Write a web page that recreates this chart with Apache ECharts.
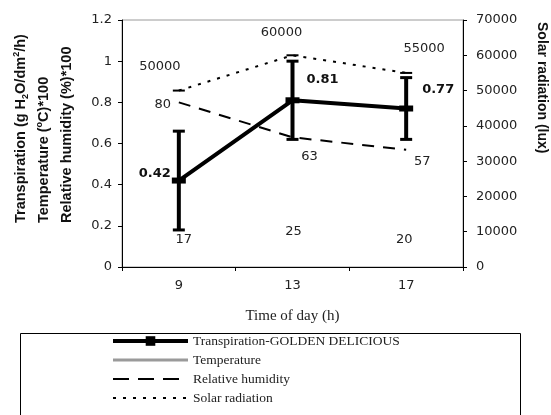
<!DOCTYPE html>
<html>
<head>
<meta charset="utf-8">
<script src="https://cdn.jsdelivr.net/npm/echarts@6/dist/echarts.min.js"></script>
<style>
html,body{margin:0;padding:0;background:#fff;}
#chart{width:551px;height:415px;}
</style>
</head>
<body>
<div id="chart"></div>
<script>
// Time of day (h)
const hours = ['9', '13', '17'];
// Transpiration, g H2O/dm2/h, with error bar ends
const transpiration = [0.42, 0.81, 0.77];
const transpirationLow = [0.18, 0.62, 0.62];
const transpirationHigh = [0.66, 1.00, 0.92];
// Temperature (°C) and relative humidity (%), plotted as value/100 on the left axis
const temperature = [17, 25, 20];
const humidity = [80, 63, 57];
// Solar radiation (lux), right axis
const solar = [50000, 60000, 55000];

// Axis ranges
const leftAxisRange = {min: 0, max: 1.2, interval: 0.2};
const rightAxisRange = {min: 0, max: 70000, interval: 10000};

// Label placement around each point
const transLabelOffset = [[-24, -7], [30, -21], [32, -19]];
const tempLabelOffset = [[5, 8], [1, 16], [-2, 14]];
const humLabelOffset = [[-16, 2], [17, 19], [16, 12]];
const solarLabelOffset = [[-19, -24], [-11, -23], [18, -24]];

const numFont = 'DejaVu Sans';
const serifFont = 'Liberation Serif';
const titleFont = 'Liberation Sans';

function pointData(values, scale, offsets, extraLabel) {
  return values.map((v, i) => ({
    value: v / scale,
    label: Object.assign({offset: offsets[i]}, extraLabel || {})
  }));
}

const chart = echarts.init(document.getElementById('chart'), null, {renderer: 'canvas'});

const titleRich = {
  a: {fontFamily: titleFont, fontWeight: 'bold', fontSize: 14.5, fill: '#111'},
  sub: {fontFamily: titleFont, fontWeight: 'bold', fontSize: 9, fill: '#111', verticalAlign: 'bottom', lineHeight: 18},
  sup: {fontFamily: titleFont, fontWeight: 'bold', fontSize: 9, fill: '#111', verticalAlign: 'top', lineHeight: 18}
};

const option = {
  backgroundColor: '#fff',
  animation: false,
  grid: {
    left: 122, right: 88, top: 20, bottom: 148,
    show: true, borderColor: '#9a9a9a', borderWidth: 1,
    backgroundColor: 'transparent'
  },
  xAxis: {
    type: 'category',
    data: hours,
    boundaryGap: true,
    name: 'Time of day (h)',
    nameLocation: 'middle',
    nameGap: 42,
    nameTextStyle: {fontFamily: serifFont, fontSize: 15, color: '#222'},
    axisLine: {lineStyle: {color: '#000', width: 1}},
    axisTick: {show: true, length: 4, lineStyle: {color: '#000'}},
    axisLabel: {fontFamily: numFont, fontSize: 13, color: '#222', margin: 12},
    splitLine: {show: false}
  },
  yAxis: [
    {
      type: 'value',
      position: 'left',
      min: leftAxisRange.min, max: leftAxisRange.max, interval: leftAxisRange.interval,
      axisLine: {show: true, lineStyle: {color: '#000', width: 1}},
      axisTick: {show: true, length: 4, lineStyle: {color: '#000'}},
      axisLabel: {fontFamily: numFont, fontSize: 13, color: '#222', margin: 10},
      splitLine: {show: false}
    },
    {
      type: 'value',
      position: 'right',
      min: rightAxisRange.min, max: rightAxisRange.max, interval: rightAxisRange.interval,
      axisLine: {show: true, lineStyle: {color: '#000', width: 1}},
      axisTick: {show: true, length: 4, lineStyle: {color: '#000'}},
      axisLabel: {fontFamily: numFont, fontSize: 13, color: '#222', margin: 13,
                  formatter: v => String(v)},
      splitLine: {show: false}
    }
  ],
  legend: {
    orient: 'vertical',
    left: 111,
    top: 334,
    padding: 0,
    itemWidth: 75,
    itemHeight: 12,
    itemGap: 5,
    textStyle: {fontFamily: serifFont, fontSize: 13.5, color: '#222', lineHeight: 14},
    data: [
      {name: 'Transpiration-GOLDEN DELICIOUS', lineStyle: {color: '#000', width: 4, opacity: 1}},
      {name: 'Temperature', lineStyle: {color: '#9a9a9a', width: 3, opacity: 1, type: 'solid'},
       itemStyle: {opacity: 0}},
      {name: 'Relative humidity', lineStyle: {color: '#000', width: 2, opacity: 1, type: [16, 9]},
       itemStyle: {opacity: 0}},
      {name: 'Solar radiation', lineStyle: {color: '#000', width: 2, opacity: 1, type: [3, 7]},
       itemStyle: {opacity: 0}}
    ]
  },
  graphic: [
    // legend frame
    {type: 'rect', left: 18, top: 331, shape: {width: 500, height: 100},
     style: {fill: 'none', stroke: '#000', lineWidth: 1}, z: -1},
    // left axis titles, three stacked lines
    {type: 'text', x: 21, y: 223, rotation: Math.PI / 2,
     style: {
       text: '{a|Transpiration (g H}{sub|2}{a|O/dm}{sup|2}{a|/h)}',
       align: 'left', verticalAlign: 'middle',
       rich: titleRich
     }},
    {type: 'text', x: 44, y: 223, rotation: Math.PI / 2,
     style: {
       text: '{a|Temperature (}{sup|o}{a|C)*100}',
       align: 'left', verticalAlign: 'middle',
       rich: titleRich
     }},
    {type: 'text', x: 67, y: 223, rotation: Math.PI / 2,
     style: {
       text: 'Relative humidity (%)*100',
       align: 'left', verticalAlign: 'middle',
       font: 'bold 14.5px "Liberation Sans"', fill: '#111'
     }},
    // right axis title
    {type: 'text', x: 542, y: 22, rotation: -Math.PI / 2,
     style: {
       text: 'Solar radiation (lux)',
       align: 'left', verticalAlign: 'middle',
       font: 'bold 14px "Liberation Sans"', fill: '#111'
     }}
  ],
  series: [
    {
      name: 'Relative humidity',
      type: 'line',
      yAxisIndex: 0,
      data: pointData(humidity, 100, humLabelOffset),
      symbol: 'circle', symbolSize: 1,
      itemStyle: {color: 'rgba(0,0,0,0)'},
      lineStyle: {color: '#000', width: 2, type: [12, 9]},
      label: {show: true, position: 'inside', fontFamily: numFont, fontSize: 13, color: '#222',
              formatter: p => String(Math.round(p.value * 100))},
      z: 2
    },
    {
      name: 'Solar radiation',
      type: 'line',
      yAxisIndex: 1,
      data: pointData(solar, 1, solarLabelOffset),
      symbol: 'rect', symbolSize: [12, 2],
      itemStyle: {color: '#000'},
      lineStyle: {color: '#000', width: 2, type: [3, 7]},
      label: {show: true, position: 'inside', fontFamily: numFont, fontSize: 13, color: '#222',
              formatter: p => String(p.value)},
      z: 2
    },
    {
      name: 'Temperature',
      type: 'line',
      yAxisIndex: 0,
      data: pointData(temperature, 100, tempLabelOffset),
      symbol: 'circle', symbolSize: 1,
      itemStyle: {color: 'rgba(0,0,0,0)'},
      lineStyle: {color: '#9a9a9a', width: 3, opacity: 0},
      label: {show: true, position: 'inside', fontFamily: numFont, fontSize: 13, color: '#222',
              formatter: p => String(Math.round(p.value * 100))},
      z: 2
    },
    {
      name: 'transpiration-error',
      type: 'custom',
      yAxisIndex: 0,
      data: hours.map((h, i) => [i, transpirationLow[i], transpirationHigh[i]]),
      encode: {x: 0, y: [1, 2]},
      renderItem: function (params, api) {
        const low = api.coord([api.value(0), api.value(1)]);
        const high = api.coord([api.value(0), api.value(2)]);
        const x = low[0];
        const half = 6;
        return {
          type: 'group',
          children: [
            {type: 'line', shape: {x1: x, y1: low[1], x2: x, y2: high[1]}, style: {stroke: '#000', lineWidth: 4}},
            {type: 'line', shape: {x1: x - half, y1: high[1], x2: x + half, y2: high[1]}, style: {stroke: '#000', lineWidth: 3}},
            {type: 'line', shape: {x1: x - half, y1: low[1], x2: x + half, y2: low[1]}, style: {stroke: '#000', lineWidth: 3}}
          ]
        };
      },
      z: 4
    },
    {
      name: 'Transpiration-GOLDEN DELICIOUS',
      type: 'line',
      yAxisIndex: 0,
      data: pointData(transpiration, 1, transLabelOffset),
      symbol: 'rect', symbolSize: [14, 6],
      itemStyle: {color: '#000'},
      lineStyle: {color: '#000', width: 4},
      label: {show: true, position: 'inside', fontFamily: numFont, fontWeight: 'bold', fontSize: 13, color: '#111',
              formatter: p => p.value.toFixed(2)},
      z: 5
    }
  ]
};

chart.setOption(option);
</script>
</body>
</html>
